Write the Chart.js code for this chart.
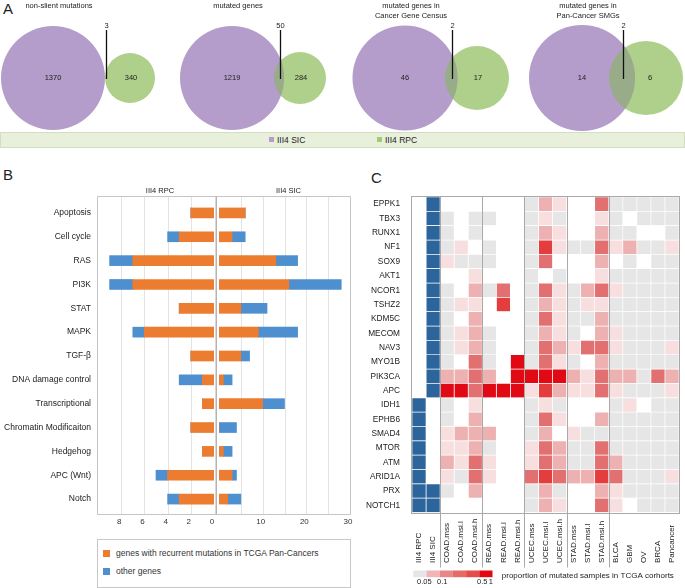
<!DOCTYPE html>
<html>
<head>
<meta charset="utf-8">
<script src="https://cdn.jsdelivr.net/npm/chart.js@4.4.1/dist/chart.umd.min.js"></script>
<style>
  body { margin: 0; width: 685px; height: 588px; position: relative; background: #fff; overflow: hidden;
         font-family: "Liberation Sans", Arial, sans-serif; color: #222; }
  canvas { position: absolute; }
  .abs { position: absolute; white-space: nowrap; }
  .letter { font-size: 15px; line-height: 15px; }
  .sq { position: absolute; }
</style>
</head>
<body>
<div class="abs letter" style="left:3px;top:1px">A</div>
<div class="abs letter" style="left:3px;top:167px">B</div>
<div class="abs letter" style="left:371px;top:170px">C</div>

<canvas id="venn" width="685" height="131" style="left:0;top:0"></canvas>

<!-- legend band under the venns -->
<div class="abs" style="left:0;top:132px;width:683px;height:14px;background:#e8efda;border:1px solid #d3ddc2"></div>
<div class="sq" style="left:269px;top:137px;width:5px;height:5px;background:rgb(180,157,202)"></div>
<div class="abs" style="left:277px;top:133px;font-size:8.5px;line-height:14px">III4 SIC</div>
<div class="sq" style="left:377px;top:137px;width:5px;height:5px;background:rgb(160,204,120)"></div>
<div class="abs" style="left:385px;top:133px;font-size:8.5px;line-height:14px">III4 RPC</div>

<canvas id="rpc" width="217" height="351" style="left:0;top:180px"></canvas>
<canvas id="sic" width="140" height="351" style="left:217px;top:180px"></canvas>

<!-- legend of panel B -->
<div class="abs" style="left:97px;top:539px;width:252px;height:47px;border:1px solid #c8c8c8"></div>
<div class="sq" style="left:103px;top:550px;width:7px;height:7px;background:#ec7c30"></div>
<div class="abs" style="left:116px;top:547px;font-size:8.5px;line-height:12px;color:#333">genes with recurrent mutations in TCGA Pan-Cancers</div>
<div class="sq" style="left:103px;top:568px;width:7px;height:7px;background:#4e8fd0"></div>
<div class="abs" style="left:116px;top:565px;font-size:8.5px;line-height:12px;color:#333">other genes</div>

<canvas id="heat" width="325" height="418" style="left:360px;top:170px"></canvas>

<script>
// ---- panel A: venn counts
const vennTitles = [["non-slient mutations"], ["mutated genes"], ["mutated genes in", "Cancer Gene Census"], ["mutated genes in", "Pan-Cancer SMGs"]];
const sicOnly = [1370, 1219, 46, 14];
const shared = [3, 50, 2, 2];
const rpcOnly = [340, 284, 17, 6];

// ---- panel B: genes per pathway
const pathways = ["Apoptosis", "Cell cycle", "RAS", "PI3K", "STAT", "MAPK", "TGF-β", "DNA damage control",
  "Transcriptional", "Chromatin Modificaiton", "Hedgehog", "APC (Wnt)", "Notch"];
const rpcRecurrent = [2, 3, 7, 7, 3, 6, 2, 1, 1, 2, 1, 4, 3];
const rpcOther     = [0, 1, 2, 2, 0, 1, 0, 2, 0, 0, 0, 1, 1];
const sicRecurrent = [6, 3, 13, 16, 5, 9, 5, 1, 10, 0, 1, 3, 2];
const sicOther     = [0, 3, 5, 12, 6, 9, 2, 2, 5, 4, 2, 1, 3];
const rpcTicks = [0, 2, 4, 6, 8];
const sicTicks = [10, 20, 30];

// ---- panel C: heatmap
const genes = ["EPPK1", "TBX3", "RUNX1", "NF1", "SOX9", "AKT1", "NCOR1", "TSHZ2", "KDM5C", "MECOM", "NAV3",
  "MYO1B", "PIK3CA", "APC", "IDH1", "EPHB6", "SMAD4", "MTOR", "ATM", "ARID1A", "PRX", "NOTCH1"];
const cohorts = ["III4 RPC", "III4 SIC", "COAD.mss", "COAD.msi.l", "COAD.msi.h", "READ.mss", "READ.msi.l", "READ.msi.h",
  "UCEC.mss", "UCEC.msi.l", "UCEC.msi.h", "STAD.mss", "STAD.msi.l", "STAD.msi.h", "BLCA", "GBM", "OV", "BRCA", "Pancancer"];
const inRPC = [0,0,0,0,0,0,0,0,0,0,0,0,0,0,1,1,1,1,1,1,1,1];
const inSIC = [1,1,1,1,1,1,1,1,1,1,1,1,1,1,0,0,0,0,0,0,1,1];
// 0 none, 1 <0.05, 2..6 rising proportion (one row per gene, TCGA cohorts in order)
const tcgaLevels = [
  [0,0,0, 0,0,0, 1,3,2, 0,0,4, 1,1,1,1,1],
  [1,0,1, 1,0,0, 1,2,1, 0,0,2, 1,0,1,1,1],
  [1,0,1, 0,0,0, 1,3,2, 0,0,3, 1,1,0,0,1],
  [1,2,0, 1,0,0, 1,5,2, 1,1,4, 2,3,1,1,2],
  [2,1,1, 1,0,0, 1,4,0, 0,0,3, 0,1,0,1,1],
  [0,0,2, 0,0,0, 1,0,1, 0,0,2, 1,1,1,1,1],
  [1,0,3, 1,4,0, 1,4,2, 1,3,4, 2,1,1,1,1],
  [1,2,2, 0,5,0, 1,3,2, 1,2,2, 1,1,1,1,1],
  [1,0,3, 0,0,0, 1,4,2, 1,1,3, 1,1,1,1,1],
  [1,2,3, 1,0,0, 1,3,2, 1,0,3, 2,1,1,1,1],
  [1,2,3, 1,0,0, 1,4,3, 2,4,4, 2,1,1,1,2],
  [1,0,4, 1,0,6, 1,4,2, 1,0,3, 1,1,1,1,1],
  [3,3,4, 3,0,6, 6,6,6, 3,2,4, 3,3,1,4,3],
  [6,6,4, 6,6,6, 2,5,3, 2,2,4, 2,1,1,1,2],
  [1,0,2, 0,0,0, 1,2,1, 0,0,0, 1,2,0,1,1],
  [1,0,3, 0,0,0, 1,4,2, 0,0,3, 1,1,1,1,1],
  [2,3,3, 3,0,0, 1,3,0, 2,1,1, 1,1,1,1,1],
  [2,2,3, 1,0,0, 2,4,3, 1,1,4, 1,1,1,1,1],
  [3,2,4, 2,0,0, 2,4,3, 1,1,4, 3,1,1,1,1],
  [2,1,4, 2,0,0, 4,5,4, 3,3,5, 4,1,1,1,2],
  [1,0,3, 0,0,0, 1,3,1, 0,0,3, 2,1,1,1,1],
  [0,0,0, 0,0,0, 1,3,2, 0,0,4, 2,0,1,1,1],
];
const scaleLabels = ["0.05", "0.1", "0.5", "1"];

// ---- styles
const FONT = '"Liberation Sans", Arial, sans-serif';
const PURPLE = 'rgb(180,157,202)';
const GREEN = 'rgb(174,208,138)';
const OVERLAP = 'rgb(152,172,138)';
const ORANGE = '#ec7c30';
const BLUE = '#4e8fd0';
const DARKBLUE = '#2c659b';
const FRAME = '#c6c6c6';
const PALETTE = ['#ffffff', '#e6e6e6', '#f8dfdf', '#eeb1b1', '#e27070', '#e33d3d', '#e10a14'];
const SCALE_COLORS = ['#e6e6e6', '#f1b5b5', '#e88585', '#e56b6b', '#e44d4d', '#e30613'];

// venn layout (px)
const vennCx = [53, 232, 405, 582];
const vennR1 = [52, 52, 52.5, 53];
const vennCx2 = [130, 300, 477, 646];
const vennR2 = [25, 26, 32, 37];
const vennCy = 78;

Chart.defaults.font.family = FONT;
Chart.defaults.color = '#222';
Chart.defaults.animation = false;
Chart.defaults.responsive = false;
Chart.defaults.devicePixelRatio = 1;
Chart.defaults.events = [];
Chart.defaults.plugins.legend.display = false;
Chart.defaults.plugins.tooltip.enabled = false;

// ================= A: venns =================
const vennPlugin = {
  id: 'venn',
  afterDatasetsDraw(chart) {
    const ctx = chart.ctx;
    const a = chart.getDatasetMeta(0).data;
    const b = chart.getDatasetMeta(1).data;
    ctx.save();
    a.forEach((p, i) => {
      const g = b[i];
      const ra = p.options.radius, rb = g.options.radius;
      // overlap lens
      ctx.save();
      ctx.beginPath();
      ctx.arc(p.x, p.y, ra, 0, Math.PI * 2);
      ctx.clip();
      ctx.beginPath();
      ctx.arc(g.x, g.y, rb, 0, Math.PI * 2);
      ctx.fillStyle = OVERLAP;
      ctx.fill();
      ctx.restore();

      ctx.fillStyle = '#222';
      ctx.textAlign = 'center';
      ctx.textBaseline = 'middle';
      ctx.font = '7.5px ' + FONT;
      ctx.fillText(sicOnly[i], p.x, p.y);
      ctx.fillText(rpcOnly[i], g.x + (i === 3 ? 4 : 1), g.y);

      const lx = Math.round(((p.x + ra) + (g.x - rb)) / 2 + 1) + 0.5;
      ctx.strokeStyle = '#111';
      ctx.lineWidth = 1.3;
      ctx.beginPath();
      ctx.moveTo(lx, 30);
      ctx.lineTo(lx, p.y + 1);
      ctx.stroke();
      ctx.fillText(shared[i], lx, 25.5);

      vennTitles[i].forEach((t, k) => ctx.fillText(t, p.x + 6, 5.5 + k * 10));
    });
    ctx.restore();
  }
};

new Chart(document.getElementById('venn'), {
  type: 'bubble',
  data: {
    datasets: [
      { label: 'III4 SIC', data: sicOnly.map((v, i) => ({ x: vennCx[i], y: vennCy, r: vennR1[i] })),
        backgroundColor: PURPLE, borderWidth: 0, clip: false },
      { label: 'III4 RPC', data: rpcOnly.map((v, i) => ({ x: vennCx2[i], y: vennCy, r: vennR2[i] })),
        backgroundColor: GREEN, borderWidth: 0, clip: false },
    ]
  },
  options: {
    layout: { padding: 0, autoPadding: false },
    scales: {
      x: { type: 'linear', min: 0, max: 685, display: false },
      y: { type: 'linear', min: 0, max: 131, reverse: true, display: false },
    },
  },
  plugins: [vennPlugin],
});

// ================= B: butterfly bars =================
// frame sits a little outside the plot area, like the reference
const FRAME_TOP = 4, FRAME_BOTTOM = 2.5;

function framePlugin(side, title) {
  return {
    id: 'frame_' + side,
    beforeDatasetsDraw(chart) {
      const { ctx, chartArea: ca } = chart;
      const top = Math.round(ca.top - FRAME_TOP) - 0.5, bot = Math.round(ca.bottom + FRAME_BOTTOM) + 0.5;
      ctx.save();
      // vertical grid lines, running up to the frame
      const x = chart.scales.x;
      ctx.strokeStyle = '#e3e3e3';
      ctx.lineWidth = 1;
      x.ticks.forEach(t => {
        if (t.value === 0 || t.value === x.max) return;
        const px = Math.round(x.getPixelForValue(t.value)) + 0.5;
        ctx.beginPath();
        ctx.moveTo(px, top); ctx.lineTo(px, bot);
        ctx.stroke();
      });
      ctx.strokeStyle = FRAME;
      ctx.beginPath();
      if (side === 'left') {
        ctx.moveTo(chart.width, top); ctx.lineTo(ca.left - 0.5, top);
        ctx.lineTo(ca.left - 0.5, bot); ctx.lineTo(chart.width, bot);
      } else {
        ctx.moveTo(0, top); ctx.lineTo(ca.right + 0.5, top);
        ctx.lineTo(ca.right + 0.5, bot); ctx.lineTo(0, bot);
      }
      ctx.stroke();
      if (side === 'left') {
        ctx.strokeStyle = '#b4b4b4';
        ctx.lineWidth = 1.5;
        ctx.beginPath();
        ctx.moveTo(chart.width - 0.75, top);
        ctx.lineTo(chart.width - 0.75, bot);
        ctx.stroke();
      }
      ctx.fillStyle = '#222';
      ctx.font = '7.5px ' + FONT;
      ctx.textAlign = 'center';
      ctx.textBaseline = 'middle';
      ctx.fillText(title, (ca.left + ca.right) / 2 + 4, 10.5);
      ctx.restore();
    }
  };
}

function butterfly(id, recurrent, other, max, step, shown, side, title) {
  const left = side === 'left';
  new Chart(document.getElementById(id), {
    type: 'bar',
    data: {
      labels: pathways,
      datasets: [
        { label: 'genes with recurrent mutations in TCGA Pan-Cancers', data: recurrent, backgroundColor: ORANGE },
        { label: 'other genes', data: other, backgroundColor: BLUE },
      ]
    },
    options: {
      indexAxis: 'y',
      layout: { padding: left ? { top: 21, right: 3, left: 0, bottom: 0 } : { top: 21, right: 7, left: 2, bottom: 0 } },
      datasets: { bar: { barThickness: 10, borderWidth: 0 } },
      scales: {
        y: {
          type: 'category', stacked: true, display: left,
          grid: { display: false, drawTicks: false }, border: { display: false },
          ticks: { padding: 7, font: { size: 8.5 }, color: '#222', autoSkip: false },
          afterFit(s) { s.width = left ? 98 : 0; },
        },
        x: {
          type: 'linear', stacked: true, reverse: left, min: 0, max: max,
          border: { display: false },
          grid: { display: false, drawTicks: false },
          ticks: {
            stepSize: step, padding: 6, font: { size: 8 }, color: '#333', labelOffset: -2,
            callback: v => shown.includes(v) ? v : '',
          },
          afterFit(s) { s.height = 20; s.paddingLeft = 0; s.paddingRight = 0; },
        },
      },
    },
    plugins: [framePlugin(side, title)],
  });
}

butterfly('rpc', rpcRecurrent, rpcOther, 10, 2, rpcTicks, 'left', 'III4 RPC');
butterfly('sic', sicRecurrent, sicOther, 30, 5, sicTicks, 'right', 'III4 SIC');

// ================= C: heatmap =================
function cellColor(i, j) {
  if (j === 0) return inRPC[i] ? DARKBLUE : '#ffffff';
  if (j === 1) return inSIC[i] ? DARKBLUE : '#ffffff';
  return PALETTE[tcgaLevels[i][j - 2]];
}

const heatPlugin = {
  id: 'heat',
  afterDatasetsDraw(chart) {
    const { ctx, chartArea: ca } = chart;
    const x = chart.scales.x;
    ctx.save();
    ctx.strokeStyle = '#a9a9a9';
    ctx.lineWidth = 1;
    ctx.strokeRect(Math.round(ca.left) - 0.5, Math.round(ca.top) - 0.5, Math.round(ca.width) + 1, Math.round(ca.height) + 1);
    // group boxes
    [2, 5, 8, 11, 14].forEach(j => {
      const px = Math.round(x.getPixelForValue(j)) + 0.5;
      ctx.beginPath();
      ctx.moveTo(px, ca.top);
      ctx.lineTo(px, ca.bottom + 55);
      ctx.stroke();
    });
    // column labels
    ctx.fillStyle = '#222';
    ctx.font = '8px ' + FONT;
    ctx.textAlign = 'left';
    ctx.textBaseline = 'middle';
    cohorts.forEach((c, j) => {
      ctx.save();
      ctx.translate(x.getPixelForValue(j + 0.5), ca.bottom + 50.5);
      ctx.rotate(-Math.PI / 2);
      ctx.fillText(c, 0, 0);
      ctx.restore();
    });
    // colour scale
    const x0 = ca.left + 1.3, y0 = ca.bottom + 58, w = 13.2, h = 6.7;
    SCALE_COLORS.forEach((col, k) => {
      ctx.fillStyle = col;
      ctx.fillRect(x0 + k * w, y0, w, h);
    });
    ctx.fillStyle = '#222';
    ctx.font = '7.5px ' + FONT;
    ctx.textAlign = 'center';
    const lx = [x0 + 11, x0 + 29, x0 + 69, x0 + 77.5];
    scaleLabels.forEach((t, k) => ctx.fillText(t, lx[k], ca.bottom + 69));
    ctx.textAlign = 'left';
    ctx.font = '8px ' + FONT;
    ctx.fillText('proportion of mutated samples in TCGA corhorts', x0 + 88.5, ca.bottom + 63.5);
    ctx.restore();
  }
};

new Chart(document.getElementById('heat'), {
  type: 'bar',
  data: {
    labels: genes,
    datasets: cohorts.map((c, j) => ({
      label: c,
      data: genes.map(() => 1),
      backgroundColor: genes.map((g, i) => cellColor(i, j)),
    })),
  },
  options: {
    indexAxis: 'y',
    layout: { padding: { top: 27, right: 6, bottom: 75.5, left: 0 } },
    datasets: { bar: { barPercentage: 1, categoryPercentage: 1, borderColor: '#ffffff', borderWidth: 0.7, borderSkipped: false } },
    scales: {
      x: { type: 'linear', stacked: true, min: 0, max: cohorts.length, display: false },
      y: {
        type: 'category', stacked: true,
        grid: { display: false }, border: { display: false },
        ticks: { padding: 4, font: { size: 8.3 }, color: '#222', autoSkip: false },
        afterFit(s) { s.width = 52; },
      },
    },
  },
  plugins: [heatPlugin],
});
</script>
</body>
</html>
